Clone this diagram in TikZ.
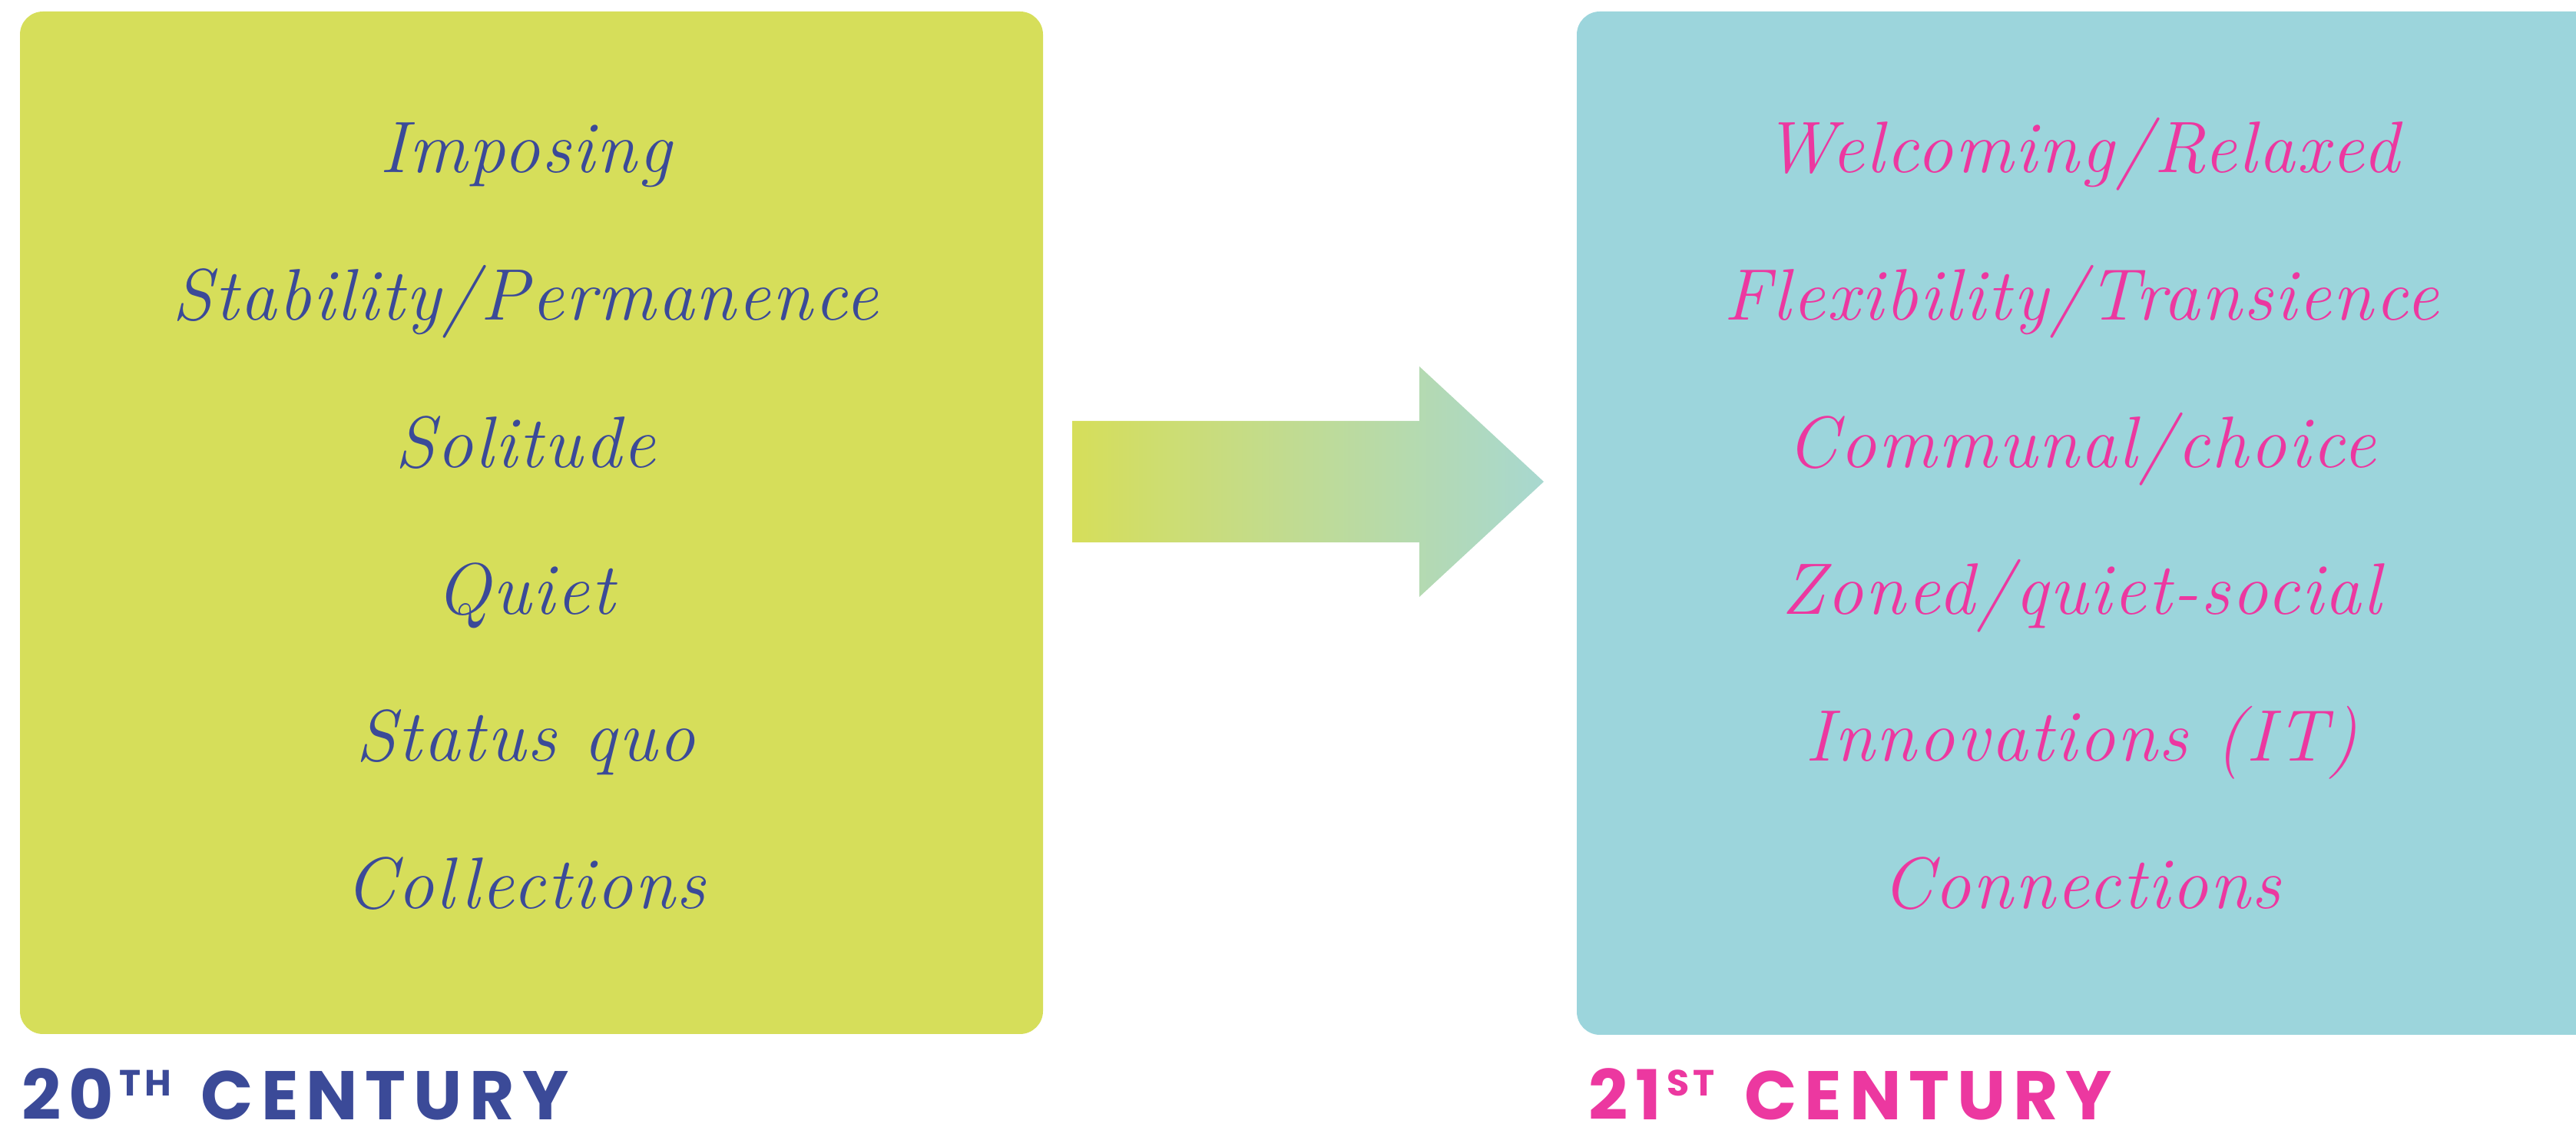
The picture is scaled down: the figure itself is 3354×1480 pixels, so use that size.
\documentclass[tikz,border=0pt]{standalone}
\usepackage{fontspec}
\newfontfamily\itfont{Latin Modern Roman}[LetterSpace=2.5]
\newfontfamily\centfont{Poppins}[LetterSpace=11]
\definecolor{lime}{RGB}{214,222,90}
\definecolor{aqua}{RGB}{156,213,220}
\definecolor{navy}{RGB}{59,74,152}
\definecolor{hotpink}{RGB}{236,56,160}
\definecolor{arrowend}{RGB}{168,216,208}
\tikzset{
  itemtext/.style={anchor=base, inner sep=0pt, font=\itfont\itshape\fontsize{27}{32}\selectfont},
  lefttext/.style={itemtext, text=navy},
  righttext/.style={itemtext, text=hotpink},
  centlabel/.style={anchor=base west, inner sep=0pt, text depth=0pt, font=\centfont\bfseries\fontsize{25.5}{30}\selectfont},
}
\newcommand{\supcaps}[1]{\hspace{2pt}\raisebox{0.62ex}{\fontsize{13.5}{16}\selectfont #1}\hspace{11pt}}
\begin{document}
\begin{tikzpicture}[x=0.01cm,y=-0.01cm]
\useasboundingbox (0,0) rectangle (3354,1480);
% boxes
\fill[lime, rounded corners=0.3cm] (26,15) rectangle (1358,1346);
\begin{scope}
\clip (0,0) rectangle (3354,1480);
\fill[aqua, rounded corners=0.3cm] (2053,15) rectangle (3420,1347);
\end{scope}
% arrow
\shade[left color=lime, right color=arrowend]
  (1396,548) -- (1848,548) -- (1848,477) -- (2010,627) -- (1848,777) -- (1848,706) -- (1396,706) -- cycle;
% left items
\node[lefttext] (l1) at (684,225) {Imposing};
\node[lefttext] (l2) at (684,417) {Stability/Permanence};
\node[lefttext] (l3) at (684,609) {Solitude};
\node[lefttext] (l4) at (684,800) {Quiet};
\node[lefttext] (l5) at (684,991) {Status quo};
\node[lefttext] (l6) at (684,1183) {Collections};
% right items
\node[righttext] (r1) at (2710,225) {Welcoming/Relaxed};
\node[righttext] (r2) at (2710,417) {Flexibility/Transience};
\node[righttext] (r3) at (2710,609) {Communal/choice};
\node[righttext] (r4) at (2710,800) {Zoned/quiet-social};
\node[righttext] (r5) at (2710,991) {Innovations (IT)};
\node[righttext] (r6) at (2710,1183) {Connections};
% century labels
\node[centlabel, text=navy] (c20) at (28,1458) {20\supcaps{TH}CENTURY};
\node[centlabel, text=hotpink] (c21) at (2068,1458) {21\supcaps{ST}CENTURY};
\end{tikzpicture}
\end{document}
